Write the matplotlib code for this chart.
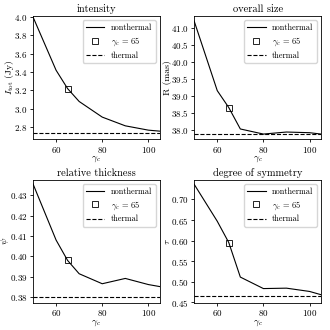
import matplotlib
matplotlib.use("Agg")

import matplotlib.pyplot as plt
from matplotlib.ticker import MultipleLocator

plt.rcParams["font.family"] = "serif"
plt.rcParams["font.serif"] = ["cmr10", "DejaVu Serif"]
plt.rcParams["mathtext.fontset"] = "cm"
plt.rcParams["axes.formatter.use_mathtext"] = True
plt.rcParams["font.size"] = 7

# ---------------------------------------------------------------------------
# DATA
# ---------------------------------------------------------------------------

gamma_c = [50, 60, 65, 70, 80, 90, 100, 105]
gamma_mark = 65

intensity = [4.00, 3.42, 3.22, 3.08, 2.91, 2.815, 2.768, 2.757]
intensity_thermal = 2.735

size = [41.2, 39.15, 38.65, 38.02, 37.87, 37.93, 37.91, 37.87]
size_thermal = 37.87

thickness = [0.4355, 0.408, 0.398, 0.3915, 0.3866, 0.3892, 0.3862, 0.3852]
thickness_thermal = 0.380

symmetry = [0.737, 0.647, 0.595, 0.511, 0.483, 0.484, 0.476, 0.468]
symmetry_thermal = 0.465

panels = [
    ("intensity", r"$I_{\rm tot}$ (Jy)", intensity, intensity_thermal, (2.67, 4.01), 0.2),
    ("overall size", "R (mas)", size, size_thermal, (37.72, 41.35), 0.5),
    ("relative thickness", r"$\psi$", thickness, thickness_thermal, (0.3772, 0.4375), 0.01),
    ("degree of symmetry", r"$\tau$", symmetry, symmetry_thermal, (0.448, 0.748), 0.05),
]

# ---------------------------------------------------------------------------
# PLOT
# ---------------------------------------------------------------------------

fig, axes = plt.subplots(2, 2, figsize=(3.3, 3.3), dpi=100)
fig.subplots_adjust(left=0.1, right=0.973, bottom=0.082, top=0.9515, wspace=0.27, hspace=0.33)

for ax, (title, ylabel, vals, thermal, ylim, step) in zip(axes.flat, panels):
    ax.plot(gamma_c, vals, color="black", lw=0.8, label="nonthermal")
    idx = gamma_c.index(gamma_mark)
    ax.plot([gamma_mark], [vals[idx]], ls="none", marker="s", ms=4.5, mfc="none",
            mec="black", mew=0.6, label=r"$\gamma_c$ = 65")
    ax.axhline(thermal, color="black", ls="--", lw=0.8, label="thermal")
    ax.set_xlim(50, 105)
    ax.set_ylim(*ylim)
    ax.set_xticks([60, 80, 100])
    ax.yaxis.set_major_locator(MultipleLocator(step))
    ax.set_title(title, fontsize=7.5, pad=3)
    ax.set_xlabel(r"$\gamma_c$", labelpad=0)
    ax.set_ylabel(ylabel, labelpad=-1)
    ax.tick_params(labelsize=6.5, length=2.5, width=0.6, pad=1.5)
    for sp in ax.spines.values():
        sp.set_linewidth(0.6)
    ax.legend(loc="upper right", fontsize=6, handlelength=2.2, borderpad=0.4,
              labelspacing=0.4, framealpha=0.8)

fig.savefig("out.png", dpi=100)
plt.close(fig)
